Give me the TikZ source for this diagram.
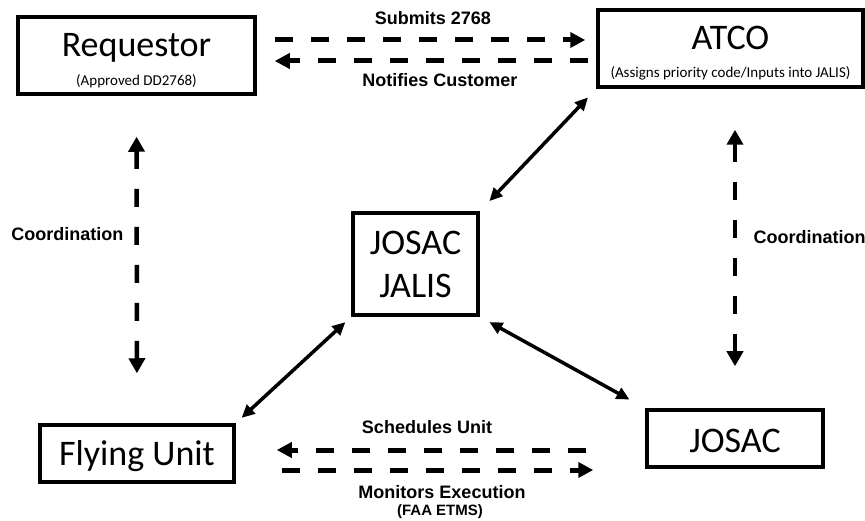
\documentclass[tikz,border=0pt]{standalone}
\usepackage{fontspec}
\setmainfont{Carlito}
\newfontfamily\labelfont{Liberation Sans}
\usetikzlibrary{arrows.meta}

\tikzset{
	unit/.style = {draw, line width=3.5pt, inner sep=0pt, align=center, text depth=0pt},
	note/.style = {font=\labelfont\bfseries\fontsize{18}{18}\selectfont},
	link/.style = {line width=3.5pt, {Triangle[length=13pt,width=12pt]}-{Triangle[length=13pt,width=12pt]}},
	flow/.style = {line width=5pt, dash pattern=on 18pt off 18pt, -{Triangle[length=15pt,width=15pt]}},
	coord/.style = {line width=4.5pt, dash pattern=on 18pt off 20pt, {Triangle[length=15pt,width=16pt]}-{Triangle[length=15pt,width=16pt]}}
}

\begin{document}
\begin{tikzpicture}[x=1pt, y=-1pt]
		\useasboundingbox (0,0) rectangle (865,521);
		\def\sub{\fontsize{15}{15}\selectfont}
	
		% boxes
		\node [unit, font=\fontsize{36}{29}\selectfont, minimum width=237pt, minimum height=77pt, text height=61pt] (req) at (136.5,55.5) {Requestor\\{\sub (Approved DD2768)}};
		\node [unit, font=\fontsize{36}{28}\selectfont, minimum width=265pt, minimum height=77pt, text height=59pt] (atco) at (730.5,48.5) {ATCO\\{\sub (Assigns priority code/Inputs into JALIS)}};
		\node [unit, font=\fontsize{36}{43}\selectfont, minimum width=125pt, minimum height=102pt, text height=68pt] (jalis) at (415.5,264) {JOSAC\\JALIS};
		\node [unit, font=\fontsize{36}{43}\selectfont, minimum width=194pt, minimum height=57pt, text height=23pt] (fly) at (137,453.5) {Flying Unit};
		\node [unit, font=\fontsize{36}{43}\selectfont, minimum width=176pt, minimum height=57pt, text height=27pt] (josac) at (735,438.5) {JOSAC};
		
		% dashed flows
		\draw [flow, shorten <=18pt, shorten >=11pt] (req.east |- 0,40) -- (atco.west |- 0,40);
		\draw [flow, shorten <=8pt, shorten >=18pt] (atco.west |- 0,61) -- (req.east |- 0,61);
		\draw [flow, shorten <=59pt, shorten >=41pt] (josac.west |- 0,450) -- (fly.east |- 0,450);
		\draw [flow, shorten <=46pt, shorten >=52pt] (fly.east |- 0,470) -- (josac.west |- 0,470);
		\draw [coord, shorten <=41pt, shorten >=50pt] (req.south) -- (fly.north);
		\draw [coord, shorten <=41pt, shorten >=42pt] (josac.north |- atco.south) -- (josac.north);
		
		% solid links
		\draw [link, shorten <=12pt, shorten >=14pt] (atco.south west) -- (jalis.north east);
		\draw [link, shorten <=8pt, shorten >=8pt] (jalis.south west) -- (fly.north east);
		\draw [link, shorten <=11pt, shorten >=18pt] (jalis.south east) -- (josac.north west);
		
		% labels
		\node [note, anchor=base] (submits) at (433,25) {Submits 2768};
		\node [note, anchor=base] (notifies) at (440,87) {Notifies Customer};
		\node [note, anchor=base east] (coordleft) at (127,241) {Coordination};
		\node [note, anchor=base west] (coordright) at (750,244) {Coordination};
		\node [note, anchor=base] (schedules) at (427,433) {Schedules Unit};
		\node [note, anchor=base] (monitors) at (442,498) {Monitors Execution};
		\node [note, font=\labelfont\bfseries\fontsize{15}{15}\selectfont, anchor=base] (etms) at (440,515) {(FAA ETMS)};
	\end{tikzpicture}
\end{document}
